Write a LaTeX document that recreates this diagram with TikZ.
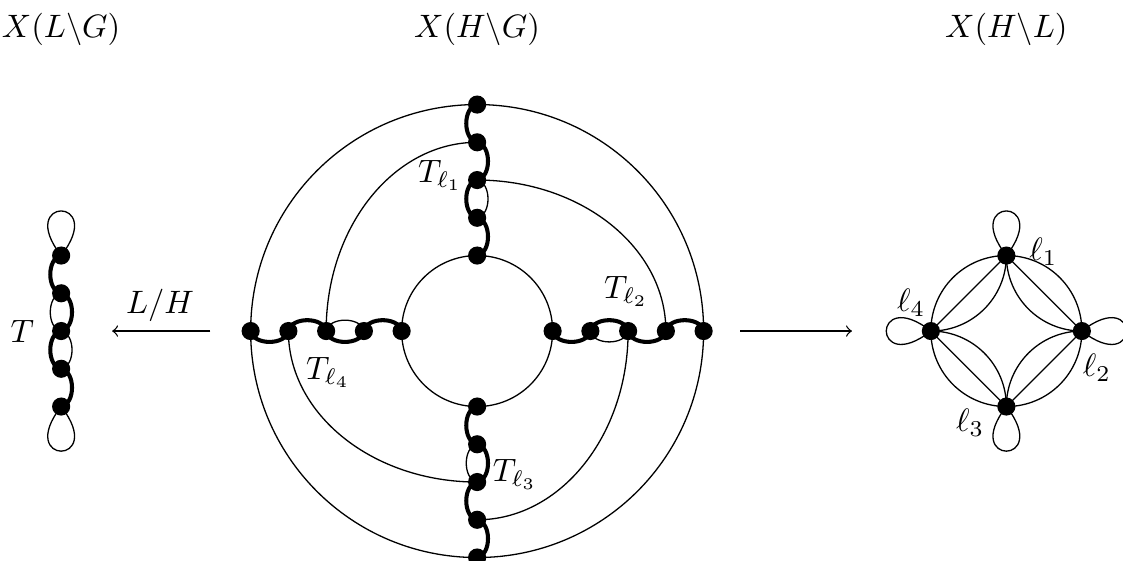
\documentclass[tikz,border=0pt]{standalone}
\begin{document}
\begin{tikzpicture}[x=11.65pt,y=11.65pt,
  dot/.style={circle,fill=black,draw=none,inner sep=0pt,minimum size=5.6pt},
  thinedge/.style={line width=0.4pt},
  thk/.style={line width=1.25pt},
  lbl/.style={inner sep=0pt}]
\clip (-12.64,-6.09) rectangle (17.11,8.77);
% ---------- middle figure coordinates
\foreach \k in {2,...,6}{
  \coordinate (t\k) at (0,\k);
  \coordinate (r\k) at (\k,0);
  \coordinate (b\k) at (0,-\k);
  \coordinate (l\k) at (-\k,0);
}
% circles
\draw[thinedge] (t6) to[out=0,in=90] (r6) to[out=-90,in=0] (b6)
  to[out=180,in=-90] (l6) to[out=90,in=180] (t6);
\draw[thinedge] (t2) to[out=0,in=90] (r2) to[out=-90,in=0] (b2)
  to[out=180,in=-90] (l2) to[out=90,in=180] (t2);
% spiral arcs
\draw[thinedge] (l4) .. controls +(0,2.76) and +(-2.21,0) .. (t5);
\draw[thinedge] (t4) .. controls +(2.76,0) and +(0,2.21) .. (r5);
\draw[thinedge] (r4) .. controls +(0,-2.76) and +(2.21,0) .. (b5);
\draw[thinedge] (b4) .. controls +(-2.76,0) and +(0,-2.21) .. (l5);
% chains
\foreach \a in {t,r,b,l}{
  \draw[thk] (\a6) to[bend right=80] (\a5);
  \draw[thk] (\a5) to[bend left=80] (\a4);
  \draw[thk] (\a4) to[bend right=80] (\a3);
  \draw[thinedge] (\a4) to[bend left=80] (\a3);
  \draw[thk] (\a3) to[bend left=80] (\a2);
}
\foreach \a in {t,r,b,l}{
  \foreach \k in {2,...,6}{
    \node[dot] (d\a\k) at (\a\k) {};
  }
}
\node[lbl] (Tl1) at (-0.98,4.12) {$T_{\ell_1}$};
\node[lbl] (Tl2) at (3.95,1.05) {$T_{\ell_2}$};
\node[lbl] (Tl3) at (1.0,-3.8) {$T_{\ell_3}$};
\node[lbl] (Tl4) at (-3.95,-1.1) {$T_{\ell_4}$};
% ---------- left figure
\foreach \k/\y in {1/2,2/1,3/0,4/-1,5/-2}{
  \coordinate (q\k) at (-11.02,\y);
}
\draw[thinedge] (q1) .. controls +(52:2.0) and +(128:2.0) .. (q1);
\draw[thinedge] (q5) .. controls +(-52:2.0) and +(-128:2.0) .. (q5);
\draw[thk] (q1) to[bend right=80] (q2);
\draw[thk] (q2) to[bend left=80] (q3);
\draw[thinedge] (q2) to[bend right=80] (q3);
\draw[thk] (q3) to[bend right=80] (q4);
\draw[thinedge] (q3) to[bend left=80] (q4);
\draw[thk] (q4) to[bend left=80] (q5);
\foreach \k in {1,...,5}{
  \node[dot] (dq\k) at (q\k) {};
}
\node[lbl] (Tlab) at (-12.05,0) {$T$};
% ---------- right figure
\coordinate (p1) at (14.02,2);
\coordinate (p2) at (16.02,0);
\coordinate (p3) at (14.02,-2);
\coordinate (p4) at (12.02,0);
\draw[thinedge] (p1) to[out=0,in=90] (p2) to[out=-90,in=0] (p3)
  to[out=180,in=-90] (p4) to[out=90,in=180] (p1);
\draw[thinedge] (p1) -- (p2) -- (p3) -- (p4) -- cycle;
\draw[thinedge] (p1) to[out=-90,in=180] (p2);
\draw[thinedge] (p2) to[out=180,in=90] (p3);
\draw[thinedge] (p3) to[out=90,in=0] (p4);
\draw[thinedge] (p4) to[out=0,in=-90] (p1);
\draw[thinedge] (p1) .. controls +(52:2.0) and +(128:2.0) .. (p1);
\draw[thinedge] (p2) .. controls +(-38:2.0) and +(38:2.0) .. (p2);
\draw[thinedge] (p3) .. controls +(-52:2.0) and +(-128:2.0) .. (p3);
\draw[thinedge] (p4) .. controls +(142:2.0) and +(218:2.0) .. (p4);
\foreach \k in {1,...,4}{
  \node[dot] (dp\k) at (p\k) {};
}
\node[lbl] (ell1) at (15.0,2.1) {$\ell_1$};
\node[lbl] (ell2) at (16.42,-0.98) {$\ell_2$};
\node[lbl] (ell3) at (13.06,-2.44) {$\ell_3$};
\node[lbl] (ell4) at (11.5,0.74) {$\ell_4$};
% ---------- arrows
\coordinate (la) at (-7.07,0);
\coordinate (lb) at (-9.67,0);
\draw[thinedge,->] (la) -- (lb);
\node[lbl] (LH) at (-8.4,0.69) {$L/H$};
\coordinate (ra) at (6.97,0);
\coordinate (rb) at (9.93,0);
\draw[thinedge,->] (ra) -- (rb);
% ---------- titles
\node (title1) at (-11.02,8) {$X(L\backslash G)$};
\node (title2) at (0,8) {$X(H\backslash G)$};
\node (title3) at (14.02,8) {$X(H\backslash L)$};
\end{tikzpicture}
\end{document}
